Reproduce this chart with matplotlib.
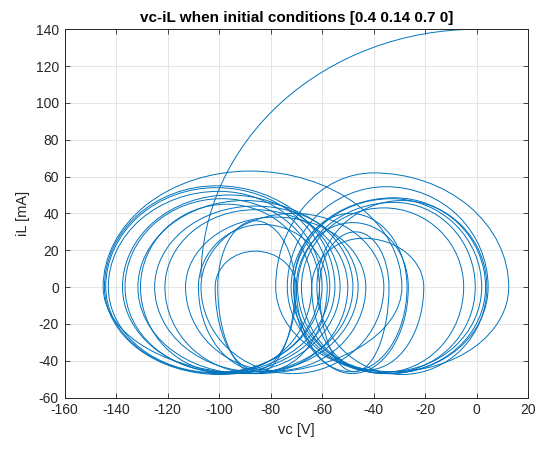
import matplotlib
matplotlib.use("Agg")
import matplotlib.pyplot as plt
from matplotlib.patches import Arc

plt.rcParams["font.family"] = ["Liberation Sans", "DejaVu Sans"]
plt.rcParams["axes.unicode_minus"] = False

# Start-up transient: quarter turn from the initial state down into the attractor
transient_center = (0.0, 5.0)       # (vc, iL)
transient_half_width = 107.0        # V
transient_half_height = 135.0       # mA

# Left scroll: each loop is described by its turning points on iL = 0,
# the vc where iL peaks, the peak iL and the trough iL.
left_vc_min = [-145.0, -144.5, -144.0, -143.0, -137.5, -136.5, -131.5, -130.5,
               -125.0, -121.0, -113.0, -108.0, -101.5, -100.5, -107.0]
left_vc_max = [-29.0, -55.0, -57.0, -60.0, -53.0, -61.0, -48.0, -64.0,
               -46.0, -50.0, -43.0, -58.0, -70.0, -70.5, -36.0]
left_vc_peak = [-88.0, -101.0, -101.0, -100.0, -96.0, -99.0, -90.0, -97.0,
                -86.0, -86.0, -78.0, -83.0, -86.0, -86.0, -71.0]
left_iL_peak = [63.0, 55.0, 54.0, 52.0, 50.0, 48.0, 47.0, 45.0,
                44.0, 42.0, 38.0, 34.0, 19.5, 36.0, 40.0]
left_iL_trough = [-47.0, -47.5, -47.0, -46.5, -47.0, -46.0, -47.0, -46.5,
                  -46.0, -47.0, -45.5, -46.0, -45.0, -47.0, -47.0]

# Right scroll, same description
right_vc_min = [-78.0, -73.5, -72.0, -71.0, -69.5, -68.0, -64.0, -62.0,
                -71.0, -70.0, -61.0]
right_vc_max = [12.5, 4.5, 3.5, 2.0, -0.5, -5.0, -20.5, 4.0, -27.0, -26.5,
                -34.0]
right_vc_peak = [-40.0, -35.0, -32.0, -33.0, -32.0, -36.0, -44.0, -29.0,
                 -49.0, -48.0, -47.0]
right_iL_peak = [62.0, 54.5, 48.5, 48.0, 46.0, 43.0, 26.5, 47.0, 40.0, 35.0,
                 30.0]
right_iL_trough = [-46.0, -47.0, -47.0, -46.0, -47.0, -46.5, -45.0, -47.5,
                   -46.0, -47.0, -46.0]

x_ticks = list(range(-160, 21, 20))
y_ticks = list(range(-60, 141, 20))

line_color = "#0072BD"
lw = 0.7


def draw_loop(ax, v0, v1, vp, ip, it):
    """One turn of the trajectory built from four quarter arcs."""
    vb = 0.5 * (v0 + v1)
    quarters = [
        ((vp, 0.0), 2 * (vp - v0), 2 * ip, 90, 180),
        ((vp, 0.0), 2 * (v1 - vp), 2 * ip, 0, 90),
        ((vb, 0.0), 2 * (vb - v0), -2 * it, 180, 270),
        ((vb, 0.0), 2 * (v1 - vb), -2 * it, 270, 360),
    ]
    for c, w, h, t1, t2 in quarters:
        ax.add_patch(Arc(c, w, h, theta1=t1, theta2=t2,
                         color=line_color, lw=lw))


fig = plt.figure(figsize=(5.39, 4.51), dpi=100)
ax = fig.add_axes([0.1197, 0.1186, 0.860, 0.8164])

ax.add_patch(Arc(transient_center, 2 * transient_half_width,
                 2 * transient_half_height, theta1=90, theta2=180,
                 color=line_color, lw=lw))

for loop in zip(left_vc_min, left_vc_max, left_vc_peak,
                left_iL_peak, left_iL_trough):
    draw_loop(ax, *loop)
for loop in zip(right_vc_min, right_vc_max, right_vc_peak,
                right_iL_peak, right_iL_trough):
    draw_loop(ax, *loop)

ax.set_xlim(-160, 20)
ax.set_ylim(-60, 140)
ax.set_xticks(x_ticks)
ax.set_yticks(y_ticks)
ax.grid(True, color="#e0e0e0", lw=0.6)
ax.set_axisbelow(True)
ax.tick_params(direction="in", length=3.5, width=0.6, colors="#262626",
               labelsize=10, top=True, right=True, pad=4)
for s in ax.spines.values():
    s.set_color("#262626")
    s.set_linewidth(0.7)

ax.set_title("vc-iL when initial conditions [0.4 0.14 0.7 0]",
             fontsize=11, fontweight="bold", color="black", pad=5)
ax.set_xlabel("vc [V]", fontsize=10.5, color="#262626", labelpad=4)
ax.set_ylabel("iL [mA]", fontsize=10.5, color="#262626", labelpad=4)

fig.savefig("out.png", dpi=100)
